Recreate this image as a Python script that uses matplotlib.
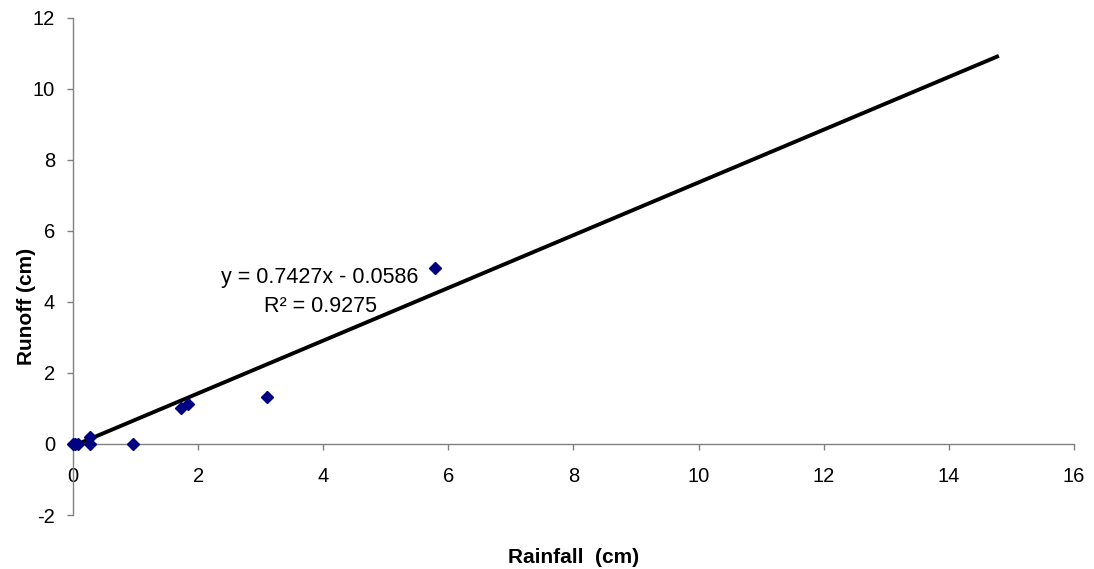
import matplotlib
matplotlib.use("Agg")
import matplotlib.pyplot as plt
import numpy as np

plt.rcParams['font.family'] = ['Liberation Sans', 'DejaVu Sans']
plt.rcParams['axes.unicode_minus'] = False

# Data
rainfall = [0.0, 0.03, 0.08, 0.27, 0.27, 0.96, 1.73, 1.84, 3.10, 5.79]
runoff = [0.0, 0.0, 0.0, 0.19, 0.0, 0.0, 1.00, 1.13, 1.31, 4.95]
slope = 0.7427
intercept = -0.0586
trend_x = [0.0, 14.8]
x_ticks = [0, 2, 4, 6, 8, 10, 12, 14, 16]
y_ticks = [-2, 0, 2, 4, 6, 8, 10, 12]

fig = plt.figure(figsize=(10.94, 5.69), dpi=100)
ax = fig.add_axes([0.0667, 0.0949, 0.9150, 0.8735])

tx = np.array(trend_x)
ax.plot(tx, slope * tx + intercept, color='black', lw=2.8, solid_capstyle='butt', zorder=3)
ax.plot(rainfall, runoff, linestyle='none', marker='D', markersize=6.5,
        color='#000080', markeredgecolor='#000080', zorder=4, clip_on=False)

ax.set_xlim(0, 16)
ax.set_ylim(-2, 12)
ax.set_xticks(x_ticks)
ax.set_yticks(y_ticks)

ax.spines['top'].set_visible(False)
ax.spines['right'].set_visible(False)
ax.spines['bottom'].set_position(('data', 0))
for s in ('left', 'bottom'):
    ax.spines[s].set_color('#808080')
    ax.spines[s].set_linewidth(1.0)

ax.tick_params(axis='both', direction='out', length=4, width=1.0, color='#808080',
               labelsize=14.5, labelcolor='black')
ax.tick_params(axis='x', pad=12.5)
ax.tick_params(axis='y', pad=9)

ax.text(3.95, 4.70, 'y = 0.7427x - 0.0586', fontsize=15.5, ha='center', va='center')
ax.text(3.95, 3.86, 'R\u00b2 = 0.9275', fontsize=15.5, ha='center', va='center')

fig.text(0.524, 0.021, 'Rainfall  (cm)', fontsize=15, fontweight='bold', ha='center', va='center')
fig.text(0.024, 0.462, 'Runoff (cm)', fontsize=15, fontweight='bold', ha='center', va='center',
         rotation=90)

fig.savefig('out.png', dpi=100)
